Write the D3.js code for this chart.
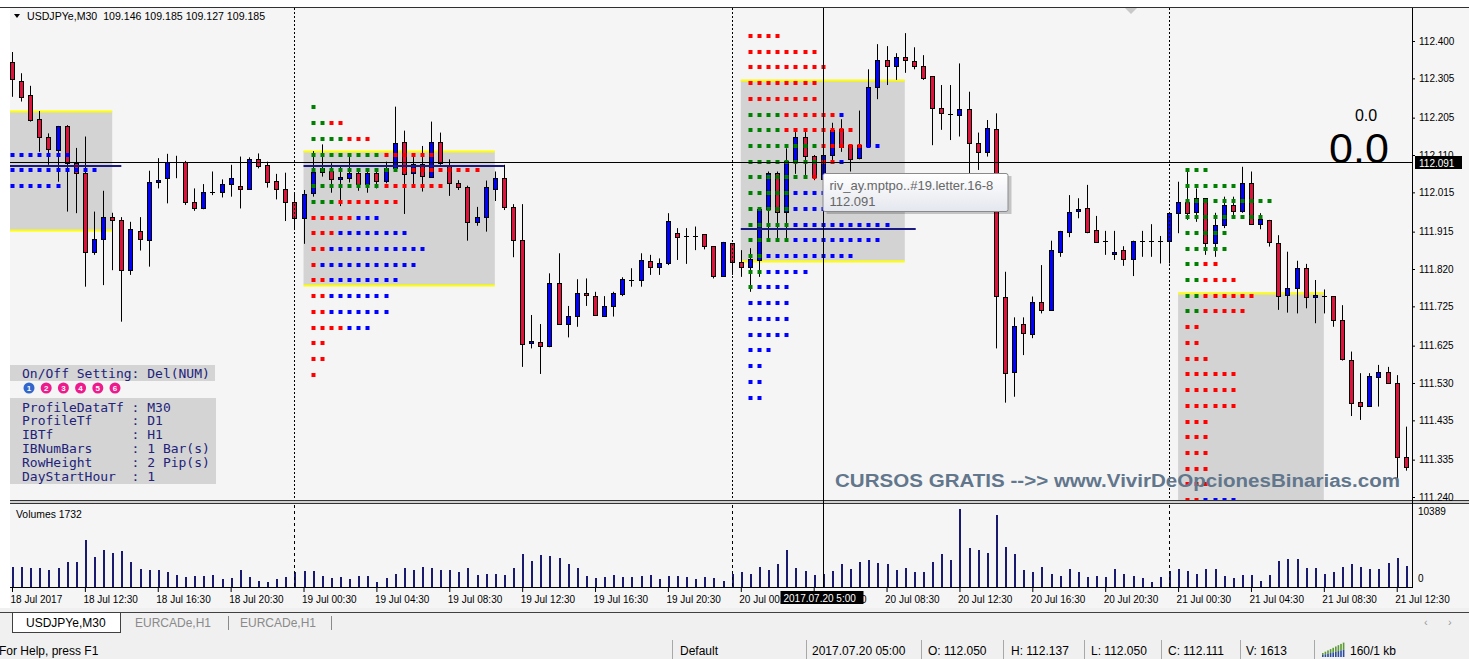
<!DOCTYPE html>
<html>
<head>
<meta charset="utf-8">
<script src="https://cdn.jsdelivr.net/npm/d3@7"></script>
<style>
body { margin: 0; background: #ffffff; }
svg { display: block; }
</style>
</head>
<body>
<svg id="chart" width="1469" height="659" font-family="'Liberation Sans', Arial, sans-serif"></svg>
<script>

// M30 bars, first one is 18 Jul 08:30  [open, high, low, close]
const candles = [
[112.347,112.372,112.258,112.303],[112.299,112.318,112.246,112.258],[112.263,112.286,112.195,112.199],[112.201,112.222,112.118,112.157],
[112.157,112.165,112.085,112.124],[112.123,112.184,112.042,112.184],[112.184,112.186,111.966,112.090],[112.090,112.128,111.962,112.065],
[112.065,112.157,111.775,111.864],[111.864,111.966,111.856,111.896],[111.896,112.019,111.779,111.953],[111.953,111.963,111.817,111.945],
[111.945,111.952,111.686,111.817],[111.817,111.940,111.805,111.922],[111.917,111.952,111.867,111.896],[111.894,112.070,111.826,112.041],
[112.041,112.102,112.025,112.047],[112.051,112.113,111.987,112.091],[112.089,112.108,112.051,112.091],[112.093,112.095,111.983,111.991],
[111.991,112.025,111.968,111.974],[111.974,112.036,111.972,112.017],[112.014,112.068,112.008,112.017],[112.017,112.048,112.002,112.035],
[112.035,112.085,112.004,112.051],[112.030,112.106,111.974,112.023],[112.023,112.104,112.021,112.100],[112.100,112.114,112.076,112.082],
[112.085,112.093,112.027,112.041],[112.044,112.062,111.997,112.023],[112.023,112.065,111.942,111.991],[111.991,112.011,111.919,111.949],
[111.949,112.021,111.884,112.010],[112.013,112.120,112.004,112.066],[112.068,112.137,112.055,112.076],[112.069,112.089,112.014,112.048],
[112.048,112.080,111.980,112.053],[112.052,112.110,112.040,112.063],[112.063,112.070,112.019,112.036],[112.036,112.068,112.014,112.063],
[112.063,112.069,112.025,112.045],[112.045,112.093,112.038,112.076],[112.076,112.233,112.072,112.140],[112.142,112.172,111.960,112.062],
[112.063,112.110,112.034,112.087],[112.087,112.133,112.017,112.057],[112.055,112.195,112.055,112.142],[112.142,112.167,112.085,112.089],
[112.085,112.099,112.006,112.038],[112.038,112.046,112.021,112.029],[112.029,112.032,111.892,111.939],[111.939,111.978,111.930,111.953],
[111.953,112.045,111.915,112.028],[112.023,112.068,111.993,112.051],[112.051,112.085,111.970,111.977],[111.977,111.985,111.850,111.894],
[111.894,111.985,111.571,111.629],[111.632,111.703,111.618,111.638],[111.635,111.680,111.553,111.624],[111.624,111.809,111.621,111.785],
[111.785,111.860,111.680,111.680],[111.680,111.726,111.646,111.701],[111.701,111.794,111.673,111.760],[111.760,111.796,111.726,111.754],
[111.751,111.762,111.703,111.703],[111.700,111.751,111.699,111.726],[111.726,111.762,111.699,111.758],[111.756,111.799,111.751,111.794],
[111.789,111.822,111.775,111.792],[111.792,111.860,111.775,111.843],[111.841,111.856,111.805,111.826],[111.826,111.847,111.805,111.836],
[111.834,111.962,111.830,111.943],[111.911,111.924,111.843,111.901],[111.902,111.924,111.833,111.904],[111.904,111.928,111.868,111.903],
[111.908,111.908,111.870,111.878],[111.878,111.878,111.796,111.802],[111.802,111.889,111.800,111.889],[111.885,111.885,111.805,111.839],
[111.837,111.868,111.800,111.826],[111.824,111.873,111.762,111.845],[111.843,111.974,111.800,111.972],[111.972,112.068,111.889,112.063],
[112.063,112.068,111.889,111.966],[111.966,112.127,111.896,112.095],[112.095,112.178,112.062,112.155],[112.155,112.178,112.055,112.107],
[112.107,112.110,112.046,112.053],[112.050,112.137,112.050,112.111],[112.110,112.192,112.089,112.174],[112.175,112.201,112.118,112.131],
[112.135,112.135,112.068,112.099],[112.102,112.223,112.099,112.135],[112.133,112.328,112.131,112.284],[112.284,112.392,112.252,112.352],
[112.352,112.387,112.288,112.337],[112.337,112.369,112.301,112.360],[112.360,112.420,112.319,112.352],[112.349,112.384,112.328,112.337],
[112.336,112.364,112.301,112.305],[112.311,112.311,112.135,112.229],[112.229,112.288,112.174,112.216],[112.214,112.288,112.148,112.213],
[112.212,112.343,112.157,112.226],[112.226,112.271,112.063,112.140],[112.141,112.167,112.072,112.118],[112.118,112.199,112.106,112.178],
[112.175,112.216,111.618,111.751],[111.748,111.813,111.480,111.556],[111.559,111.697,111.495,111.675],[111.680,111.697,111.601,111.656],
[111.655,111.750,111.644,111.737],[111.737,111.830,111.707,111.716],[111.716,111.892,111.714,111.868],[111.864,111.917,111.851,111.917],
[111.915,112.008,111.901,111.966],[111.968,112.000,111.949,111.972],[111.974,112.034,111.911,111.915],[111.919,111.955,111.887,111.889],
[111.890,111.917,111.856,111.892],[111.858,111.917,111.843,111.864],[111.868,111.878,111.828,111.845],[111.845,111.892,111.802,111.892],
[111.890,111.917,111.851,111.892],[111.890,111.934,111.851,111.892],[111.889,111.904,111.834,111.892],[111.892,111.963,111.834,111.963],
[111.963,112.042,111.911,111.991],[111.991,112.072,111.945,111.962],[111.966,112.025,111.940,112.000],[112.000,112.000,111.856,111.885],
[111.885,111.963,111.851,111.932],[111.932,112.004,111.924,111.983],[111.983,112.004,111.949,111.968],[111.968,112.080,111.963,112.040],
[112.040,112.068,111.934,111.934],[111.934,111.962,111.921,111.946],[111.945,111.945,111.877,111.889],[111.887,111.906,111.716,111.751],
[111.754,111.864,111.709,111.771],[111.771,111.841,111.707,111.822],[111.822,111.833,111.720,111.748],[111.750,111.792,111.682,111.754],
[111.751,111.768,111.707,111.752],[111.751,111.751,111.673,111.690],[111.690,111.728,111.587,111.590],[111.588,111.610,111.446,111.480],
[111.482,111.555,111.436,111.472],[111.471,111.555,111.470,111.548],[111.546,111.576,111.470,111.559],[111.559,111.571,111.529,111.529],
[111.529,111.550,111.268,111.341],[111.341,111.419,111.307,111.316]
];

const volumes = [
2597,2597,2460,2460,2187,2460,3235,3235,6242,3964,
4920,4465,4784,3235,2278,2187,2187,1822,1503,1230,
1367,1367,1503,911,1093,2141,1230,638,547,911,
1230,1822,1959,1959,1367,1093,1230,911,1367,1367,
547,1093,1686,2460,2187,2597,2460,2141,2141,1822,
2460,1549,1686,1686,1503,2460,4283,3417,4192,4009,
3827,2961,2460,1367,1093,1230,1503,1230,1230,1367,
1503,911,1367,1367,1230,911,1230,1093,683,1686,
1822,1686,2597,2187,2961,4920,2460,1959,1549,1613,
1959,2961,2278,3235,3554,3053,2916,2141,2460,1822,
1822,3235,4283,3554,10389,5103,4920,4465,9613,5239,
4283,2141,1822,2597,1686,1367,2278,1822,1230,1367,
1230,2278,1686,1367,1093,592,1230,2005,2278,1959,
1686,2278,2278,1367,1093,1503,1503,683,1503,3371,
3690,3690,2460,2460,1686,1822,2597,2916,2597,2278,
2278,3053,3827,2733
];

const priceTicks = [112.400,112.305,112.205,112.110,112.015,111.915,111.820,111.725,111.625,111.530,111.435,111.335,111.240];

const timeTickBars = [0,8,16,24,32,40,48,56,64,72,80,88,96,104,112,120,128,136,144,152];
const timeLabels = ['18 Jul 2017','18 Jul 12:30','18 Jul 16:30','18 Jul 20:30','19 Jul 00:30','19 Jul 04:30','19 Jul 08:30',
  '19 Jul 12:30','19 Jul 16:30','19 Jul 20:30','20 Jul 00:30','20 Jul 04:30','20 Jul 08:30','20 Jul 12:30','20 Jul 16:30',
  '20 Jul 20:30','21 Jul 00:30','21 Jul 04:30','21 Jul 08:30','21 Jul 12:30'];

// day separators (bar index of 00:00)
const daySeparators = [31, 79, 127];

// TPO rows: [price, letters]  G/R/B = colour of each letter
const prof1Rows = [[112.111,'BBBBBBB'],[112.071,'BBBBBBBBBB'],[112.031,'BBBBBB']];

const prof2Rows = [
[112.231,'G'],[112.191,'GGRR'],[112.151,'GGGGRRR'],[112.111,'GGGGGGGGRRRRRR'],[112.071,'GGGGGGGGGGRRRRRRRRR'],
[112.031,'GGGGGGGGRRRRRRR'],[111.991,'GGGRRRRRRR'],[111.951,'RRRRRBBB'],[111.911,'RRRBBBBBBBB'],[111.871,'RRBBBBBBBBBBB'],
[111.831,'RBBBBBBBBBBB'],[111.791,'RRBBBBBBBB'],[111.751,'RRBBBBBBB'],[111.711,'RRBBBBBBB'],[111.671,'RRRRBBB'],
[111.631,'RR'],[111.591,'RR'],[111.551,'R']
];

const prof3Rows = [
[112.413,'RRRR'],[112.373,'RRRRRRRR'],[112.333,'RRRRRRRRR'],[112.293,'RRRRRRRR'],[112.253,'RRRRRRRR'],
[112.213,'GGGGRRRRRRB'],[112.173,'GGGGRRRRRRRR'],[112.133,'GGGGGGGGRRRRRBB'],[112.093,'GGGGGGGGRRB'],[112.053,'GGGGGGGR'],
[112.013,'GGGGGBBBB'],[111.973,'GGGGGBBBB'],[111.933,'GGGGGBBBBBBBBBBB'],[111.893,'GGGGGBBBBBBBBBB'],[111.853,'GGBBBBBBBBBB'],
[111.813,'GGBBBBB'],[111.773,'GBBBB'],[111.733,'BBBBB'],[111.693,'BBBBB'],[111.653,'BBBBB'],
[111.613,'BBB'],[111.573,'BB'],[111.533,'BB'],[111.493,'BB']
];

const prof4Rows = [
[112.072,'GGG'],[112.032,'GGGGGG'],[111.992,'GGGGGGGGGG'],[111.952,'GGGGGGGGG'],[111.912,'GGGGG'],
[111.872,'GGGGG'],[111.832,'GGRR'],[111.792,'GGRRRR'],[111.752,'GGRRRRRR'],[111.712,'GGRRRRR'],
[111.672,'RR'],[111.632,'RR'],[111.592,'RRR'],[111.552,'RRRRRR'],[111.512,'RRRRRR'],[111.472,'RRRRRR'],
[111.432,'RRR'],[111.392,'RRR'],[111.352,'RRR'],[111.312,'RRR'],[111.272,'RRR'],[111.232,'RRBBBB']
];

// start bar, value area box [fromBar, toBar, high, low], poc [price, fromBar, toBar]
const profiles = [
  { start: 0,   rows: prof1Rows, box: [-1, 11, 112.222, 111.919], poc: [112.083, -1, 12], bottomLine: true },
  { start: 33,  rows: prof2Rows, box: [32, 53, 112.120, 111.779], poc: [112.083, 32, 54], bottomLine: true },
  { start: 81,  rows: prof3Rows, box: [80, 98, 112.301, 111.841], poc: [111.921, 80, 99.2], bottomLine: true },
  { start: 129, rows: prof4Rows, box: [128, 144, 111.760, 111.100], poc: null, bottomLine: false }
];

const crossBar = 89, crossPrice = 112.091;

const infoLines = ['ProfileDataTf : M30','ProfileTf     : D1','IBTf          : H1','IBNumBars     : 1 Bar(s)','RowHeight     : 2 Pip(s)','DayStartHour  : 1'];

const statusItems = [
  ['Default', 680], ['2017.07.20 05:00', 812], ['O: 112.050', 928], ['H: 112.137', 1011],
  ['L: 112.050', 1091], ['C: 112.111', 1168], ['V: 1613', 1246], ['160/1 kb', 1350]
];
const statusSeps = [672, 806, 921, 1003, 1084, 1161, 1240, 1314];

// ---------------------------------------------------------------

var svg = d3.select('#chart');

// note: "top" is taken by window.top, so use other names
var plotL = 10, plotR = 1412, plotT = 8, mainB = 500, volT = 505, volB = 587;

var x = d3.scaleLinear().domain([0, 153]).range([12, 12 + 9.11 * 153]);
var y = d3.scaleLinear().domain([111.240, 112.400]).range([497, 41]);
var yv = d3.scaleLinear().domain([0, 10389]).range([volB - 1, 509]);

var dotColor = { G: '#008000', R: '#ff0000', B: '#0000ff' };
var px = i => Math.round(x(i));

// backgrounds
svg.append('rect').attr('x', plotL).attr('y', plotT).attr('width', 1469 - plotL).attr('height', 600)
    .attr('fill', '#f5f5f5');
svg.append('rect').attr('x', 0).attr('y', 608).attr('width', 1469).attr('height', 51).attr('fill', '#f0f0f0');

svg.append('line').attr('x1', 0).attr('x2', 1469).attr('y1', 7.5).attr('y2', 7.5).attr('stroke', '#303030');

var defs = svg.append('defs');
defs.append('clipPath').attr('id', 'mainClip')
    .append('rect').attr('x', plotL).attr('y', plotT).attr('width', plotR - plotL).attr('height', mainB - plotT);
defs.append('clipPath').attr('id', 'volClip')
    .append('rect').attr('x', plotL).attr('y', volT).attr('width', plotR - plotL).attr('height', volB - volT);

var main = svg.append('g').attr('clip-path', 'url(#mainClip)');
var vol = svg.append('g').attr('clip-path', 'url(#volClip)');

// value area boxes
profiles.forEach(p => {
    main.append('rect')
        .attr('x', x(p.box[0])).attr('y', y(p.box[2]))
        .attr('width', x(p.box[1]) - x(p.box[0]))
        .attr('height', y(p.box[3]) - y(p.box[2]))
        .attr('fill', '#d3d3d3');

    var edges = p.bottomLine ? [p.box[2], p.box[3]] : [p.box[2]];
    edges.forEach(v => {
        main.append('line')
            .attr('x1', x(p.box[0])).attr('x2', x(p.box[1]))
            .attr('y1', Math.round(y(v)) + 0.5).attr('y2', Math.round(y(v)) + 0.5)
            .attr('stroke', '#ffff00').attr('stroke-width', 2);
    });
});

// day separators
daySeparators.forEach(b => {
    svg.append('line')
        .attr('x1', px(b) + 0.5).attr('x2', px(b) + 0.5)
        .attr('y1', plotT).attr('y2', mainB)
        .attr('stroke', '#000').attr('stroke-dasharray', '2,2');
    svg.append('line')
        .attr('x1', px(b) + 0.5).attr('x2', px(b) + 0.5)
        .attr('y1', volT).attr('y2', volB)
        .attr('stroke', '#000').attr('stroke-dasharray', '3,3');
});

// candles
var bars = main.selectAll('g.candle')
    .data(candles)
    .enter()
    .append('g')
    .attr('class', 'candle');

bars.append('line')
    .attr('x1', (d, i) => px(i) + 0.5).attr('x2', (d, i) => px(i) + 0.5)
    .attr('y1', d => y(d[1])).attr('y2', d => y(d[2]))
    .attr('stroke', '#000');

bars.each(function(d, i) {
    var g = d3.select(this);
    var t = Math.round(y(Math.max(d[0], d[3]))), b = Math.round(y(Math.min(d[0], d[3])));
    if (b - t < 2) {
        g.append('line')
            .attr('x1', px(i) - 2).attr('x2', px(i) + 3)
            .attr('y1', t + 0.5).attr('y2', t + 0.5)
            .attr('stroke', '#000');
    } else {
        g.append('rect')
            .attr('x', px(i) - 1.5).attr('y', t + 0.5)
            .attr('width', 4).attr('height', b - t)
            .attr('fill', d[3] > d[0] ? '#0000ff' : '#dc143c')
            .attr('stroke', '#000');
    }
});

// TPO letters
profiles.forEach(p => {
    p.rows.forEach(r => {
        main.selectAll(null)
            .data(r[1].split(''))
            .enter()
            .append('rect')
            .attr('x', (c, j) => px(p.start + j) - 1.5)
            .attr('y', Math.round(y(r[0])) - 2)
            .attr('width', 4).attr('height', 4)
            .attr('fill', c => dotColor[c]);
    });
    if (p.poc) {
        main.append('line')
            .attr('x1', x(p.poc[1])).attr('x2', x(p.poc[2]))
            .attr('y1', Math.round(y(p.poc[0]))).attr('y2', Math.round(y(p.poc[0])))
            .attr('stroke', '#1a1a80').attr('stroke-width', 2);
    }
});

// volumes
vol.selectAll('rect.v')
    .data(volumes)
    .enter()
    .append('rect')
    .attr('class', 'v')
    .attr('x', (d, i) => px(i))
    .attr('y', d => Math.round(yv(d)))
    .attr('width', 2)
    .attr('height', d => volB - Math.round(yv(d)))
    .attr('fill', '#191970');

// panel frames
svg.append('rect').attr('x', plotL).attr('y', 501).attr('width', 1469 - plotL).attr('height', 3).attr('fill', '#d0d0d0');
[500.5, 503.5].forEach(v => svg.append('line').attr('x1', plotL).attr('x2', 1469).attr('y1', v).attr('y2', v).attr('stroke', '#333'));
svg.append('line').attr('x1', plotL).attr('x2', plotR).attr('y1', volB + 0.5).attr('y2', volB + 0.5).attr('stroke', '#000');
svg.append('line').attr('x1', plotR + 0.5).attr('x2', plotR + 0.5).attr('y1', plotT).attr('y2', volB + 1).attr('stroke', '#000');

// price axis
var yAxis = d3.axisRight(y).tickValues(priceTicks).tickFormat(d3.format('.3f')).tickSize(3).tickPadding(4);
var ya = svg.append('g').attr('transform', `translate(${plotR} 0)`).call(yAxis);
ya.select('.domain').remove();
ya.selectAll('text').attr('font-family', "'Liberation Sans', Arial, sans-serif").attr('font-size', 10).attr('fill', '#000');

// volume scale
svg.append('text').attr('x', plotR + 6).attr('y', 515).attr('font-size', 10).text('10389');
svg.append('text').attr('x', plotR + 6).attr('y', 582).attr('font-size', 10).text('0');

// time axis
var xAxis = d3.axisBottom(x).tickValues(timeTickBars).tickFormat((d, i) => timeLabels[i]).tickSize(4).tickPadding(4);
var xa = svg.append('g').attr('transform', `translate(0 ${volB + 1})`).call(xAxis);
xa.select('.domain').remove();
xa.selectAll('text').attr('text-anchor', 'start').attr('dx', -2)
    .attr('font-family', "'Liberation Sans', Arial, sans-serif").attr('font-size', 10).attr('fill', '#000');

// header
svg.append('path').attr('d', 'M14,14 L20,14 L17,18 Z').attr('fill', '#000');
svg.append('text').attr('x', 27).attr('y', 20).attr('font-size', 10.6).attr('xml:space', 'preserve')
    .text('USDJPYe,M30  109.146 109.185 109.127 109.185');
svg.append('text').attr('x', 16).attr('y', 518).attr('font-size', 10.4).text('Volumes 1732');

// shift marker
svg.append('path').attr('d', 'M1125,8 L1137,8 L1131,14 Z').attr('fill', '#c8c8c8');

// big numbers
svg.append('text').attr('x', 1366).attr('y', 121).attr('text-anchor', 'middle').attr('font-size', 16).text('0.0');
svg.append('text').attr('x', 1359).attr('y', 163).attr('text-anchor', 'middle').attr('font-size', 43).text('0.0');

// watermark
svg.append('text').attr('x', 835).attr('y', 487).attr('font-size', 18).attr('font-weight', 'bold')
    .attr('fill', '#62768c').attr('textLength', 565).attr('lengthAdjust', 'spacingAndGlyphs')
    .text('CURSOS GRATIS -->> www.VivirDeOpcionesBinarias.com');

// settings panel
var mono = "'DejaVu Sans Mono', 'Liberation Mono', monospace";
var info = svg.append('g');
info.append('rect').attr('x', 10).attr('y', 365).attr('width', 205).attr('height', 16).attr('fill', '#d4d4d4');
info.append('text').attr('x', 22).attr('y', 378).attr('font-family', mono)
    .attr('font-size', 13).attr('fill', '#22227a').text('On/Off Setting: Del(NUM)');
d3.range(6).forEach(k => {
    info.append('circle').attr('cx', 29 + k * 17.2).attr('cy', 388).attr('r', 5.5)
        .attr('fill', k == 0 ? '#3366cc' : '#ee1a8c');
    info.append('text').attr('x', 29 + k * 17.2).attr('y', 391).attr('text-anchor', 'middle')
        .attr('font-size', 8).attr('font-weight', 'bold').attr('fill', '#fff').text(k + 1);
});
info.append('rect').attr('x', 10).attr('y', 398).attr('width', 206).attr('height', 86).attr('fill', '#d4d4d4');
info.selectAll('text.l')
    .data(infoLines)
    .enter()
    .append('text')
    .attr('class', 'l')
    .attr('x', 22).attr('y', (d, i) => 411.5 + i * 13.8)
    .attr('font-family', mono).attr('font-size', 13).attr('fill', '#22227a')
    .attr('xml:space', 'preserve')
    .style('white-space', 'pre')
    .text(d => d);

// crosshair
var cx = px(crossBar) + 0.5, cy = Math.round(y(crossPrice)) + 0.5;
svg.append('line').attr('x1', cx).attr('x2', cx).attr('y1', plotT).attr('y2', volB).attr('stroke', '#000');
svg.append('line').attr('x1', plotL).attr('x2', plotR).attr('y1', cy).attr('y2', cy).attr('stroke', '#000');
svg.append('rect').attr('x', plotR + 3).attr('y', cy - 6.5).attr('width', 47).attr('height', 13).attr('fill', '#000');
svg.append('text').attr('x', plotR + 7).attr('y', cy + 4).attr('font-size', 10).attr('fill', '#fff').text(crossPrice.toFixed(3));
svg.append('rect').attr('x', cx - 43).attr('y', 591).attr('width', 83).attr('height', 13).attr('fill', '#000');
svg.append('text').attr('x', cx - 40).attr('y', 601.5).attr('font-size', 10).attr('fill', '#fff').text('2017.07.20 5:00');

// tooltip
var grad = defs.append('linearGradient').attr('id', 'tip').attr('x1', 0).attr('y1', 0).attr('x2', 0).attr('y2', 1);
grad.append('stop').attr('offset', 0).attr('stop-color', '#ffffff');
grad.append('stop').attr('offset', 1).attr('stop-color', '#e4e7ee');
svg.append('rect').attr('x', cx + 3).attr('y', 176).attr('width', 185).attr('height', 38).attr('fill', 'rgba(0,0,0,0.2)');
svg.append('rect').attr('x', cx - 0.5).attr('y', 173.5).attr('width', 185).attr('height', 38).attr('rx', 2)
    .attr('fill', 'url(#tip)').attr('stroke', '#8a8a8a');
svg.append('text').attr('x', cx + 6).attr('y', 190).attr('font-size', 13).attr('fill', '#666')
    .text('riv_ay.mptpo..#19.letter.16-8');
svg.append('text').attr('x', cx + 6).attr('y', 206).attr('font-size', 13).attr('fill', '#666').text('112.091');

// tabs
svg.append('line').attr('x1', 0).attr('x2', 1469).attr('y1', 612.5).attr('y2', 612.5).attr('stroke', '#404040');
svg.append('rect').attr('x', 12.5).attr('y', 612.5).attr('width', 108).attr('height', 20).attr('fill', '#fff').attr('stroke', '#404040');
svg.append('text').attr('x', 26).attr('y', 627).attr('font-size', 12).text('USDJPYe,M30');
svg.append('text').attr('x', 135).attr('y', 627).attr('font-size', 12).attr('fill', '#8a8a8a').text('EURCADe,H1');
svg.append('text').attr('x', 240).attr('y', 627).attr('font-size', 12).attr('fill', '#8a8a8a').text('EURCADe,H1');
[228, 331].forEach(v => svg.append('line').attr('x1', v + 0.5).attr('x2', v + 0.5).attr('y1', 616).attr('y2', 630).attr('stroke', '#8a8a8a'));
svg.append('text').attr('x', 1424).attr('y', 626).attr('font-size', 11).attr('fill', '#999').text('‹');
svg.append('text').attr('x', 1448).attr('y', 626).attr('font-size', 11).attr('fill', '#999').text('›');

// status bar
svg.append('text').attr('x', -1).attr('y', 655).attr('font-size', 12).text('For Help, press F1');
statusSeps.forEach(v => svg.append('line').attr('x1', v + 0.5).attr('x2', v + 0.5).attr('y1', 640).attr('y2', 659).attr('stroke', '#a8a8a8'));
statusItems.forEach(s => svg.append('text').attr('x', s[1]).attr('y', 655).attr('font-size', 12).text(s[0]));
d3.range(9).forEach(k => {
    var h = 4 + k * 1.3;
    svg.append('rect').attr('x', 1322 + k * 2.6).attr('y', 657 - h).attr('width', 1.6).attr('height', h * 0.5).attr('fill', '#5a9a30');
    svg.append('rect').attr('x', 1322 + k * 2.6).attr('y', 657 - h * 0.5).attr('width', 1.6).attr('height', h * 0.5).attr('fill', '#2a4aa0');
});

</script>
</body>
</html>
